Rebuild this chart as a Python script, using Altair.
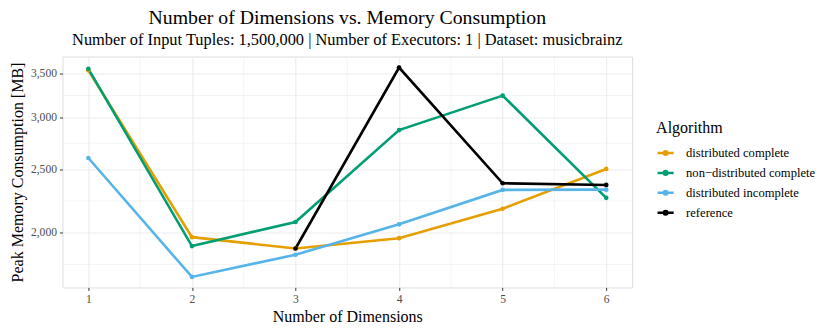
import altair as alt
import pandas as pd

dims = [1, 2, 3, 4, 5, 6]
algorithms = ["distributed complete", "non\u2212distributed complete", "distributed incomplete", "reference"]
colors = ["#E69F00", "#009E73", "#56B4E9", "#000000"]

dist_complete = [3540, 1968, 1891, 1961, 2175, 2502]
nondist_complete = [3557, 1907, 2076, 2868, 3238, 2260]
dist_incomplete = [2600, 1711, 1850, 2059, 2324, 2326]
reference = [None, None, 1891, 3574, 2379, 2365]

y_ticks = [2000, 2500, 3000, 3500]
y_minor = [1788, 2236, 2739, 3240]
x_minor = [1.5, 2.5, 3.5, 4.5, 5.5]

rows = []
for name, vals in zip(algorithms, [dist_complete, nondist_complete, dist_incomplete, reference]):
    for d, v in zip(dims, vals):
        if v is not None:
            rows.append({"dim": d, "mem": v, "alg": name})
df = pd.DataFrame(rows)

FONT = "Liberation Serif"
xscale = alt.Scale(domain=[0.75, 6.25], nice=False, zero=False)
yscale = alt.Scale(type="log", domain=[1649, 3715], nice=False, zero=False)
cscale = alt.Scale(domain=algorithms, range=colors)

ymin_df = pd.DataFrame({"v": y_minor})
xmin_df = pd.DataFrame({"v": x_minor})

xaxis = alt.Axis(
    title="Number of Dimensions",
    values=dims,
    format="d",
    grid=True,
    gridColor="#EBEBEB",
    gridWidth=1.1,
    domain=False,
    tickColor="#333333",
    tickSize=3,
    labelFont=FONT,
    labelFontSize=11.6,
    labelColor="#4D4D4D",
    labelPadding=3,
    titleFont=FONT,
    titleFontSize=16,
    titleFontWeight="normal",
    titleColor="#000000",
    titlePadding=3,
)
yaxis = alt.Axis(
    title="Peak Memory Consumption [MB]",
    values=y_ticks,
    format=",",
    grid=True,
    gridColor="#EBEBEB",
    gridWidth=1.1,
    domain=False,
    tickColor="#333333",
    tickSize=3,
    labelFont=FONT,
    labelFontSize=11.6,
    labelColor="#4D4D4D",
    labelPadding=3,
    titleFont=FONT,
    titleFontSize=16,
    titleFontWeight="normal",
    titleColor="#000000",
    titlePadding=5,
)

legend = alt.Legend(
    title="Algorithm",
    orient="none",
    legendX=594,
    legendY=63,
    titleFont=FONT,
    titleFontSize=16,
    titleFontWeight="normal",
    titleColor="#000000",
    titlePadding=8,
    labelFont=FONT,
    labelFontSize=12.6,
    labelColor="#000000",
    symbolType="M-1,0H1M-0.22,0A0.22,0.22,0,1,1,0.22,0A0.22,0.22,0,1,1,-0.22,0Z",
    symbolSize=260,
    symbolStrokeWidth=2.5,
    rowPadding=2.9,
    labelOffset=11,
)

ygrid_minor = alt.Chart(ymin_df).mark_rule(color="#EDEDED", strokeWidth=0.6).encode(
    y=alt.Y("v:Q", scale=yscale, axis=yaxis)
)
xgrid_minor = alt.Chart(xmin_df).mark_rule(color="#EDEDED", strokeWidth=0.6).encode(
    x=alt.X("v:Q", scale=xscale, axis=xaxis)
)

xenc = alt.X("dim:Q", scale=xscale, axis=xaxis)
yenc = alt.Y("mem:Q", scale=yscale, axis=yaxis)

lines = alt.Chart(df).mark_line(strokeWidth=2.6).encode(
    x=xenc, y=yenc,
    stroke=alt.Stroke("alg:N", scale=cscale, sort=algorithms, legend=legend),
    detail="alg:N",
)
points = alt.Chart(df).mark_point(filled=True, size=22, opacity=1, strokeWidth=0).encode(
    x=xenc, y=yenc,
    fill=alt.Fill("alg:N", scale=cscale, sort=algorithms, legend=legend),
    stroke=alt.Stroke("alg:N", scale=cscale, sort=algorithms, legend=legend),
)

chart = (
    alt.layer(ygrid_minor, xgrid_minor, lines, points)
    .properties(
        width=570,
        height=231,
        padding={"left": 54.5, "top": 48.5, "right": 190, "bottom": 36},
        autosize=alt.AutoSizeParams(type="none"),
        title=alt.TitleParams(
            text="Number of Dimensions vs. Memory Consumption",
            subtitle="Number of Input Tuples: 1,500,000 | Number of Executors: 1 | Dataset: musicbrainz",
            font=FONT,
            fontSize=19.8,
            fontWeight="normal",
            color="#000000",
            subtitleFont=FONT,
            subtitleFontSize=16.4,
            subtitleColor="#000000",
            subtitlePadding=4.5,
            anchor="middle",
            offset=7.5,
        ),
    )
    .configure_view(stroke="#333333", strokeWidth=1)
    .configure(background="white")
)

chart.save("out.html", embed_options={"renderer": "svg", "actions": False})
